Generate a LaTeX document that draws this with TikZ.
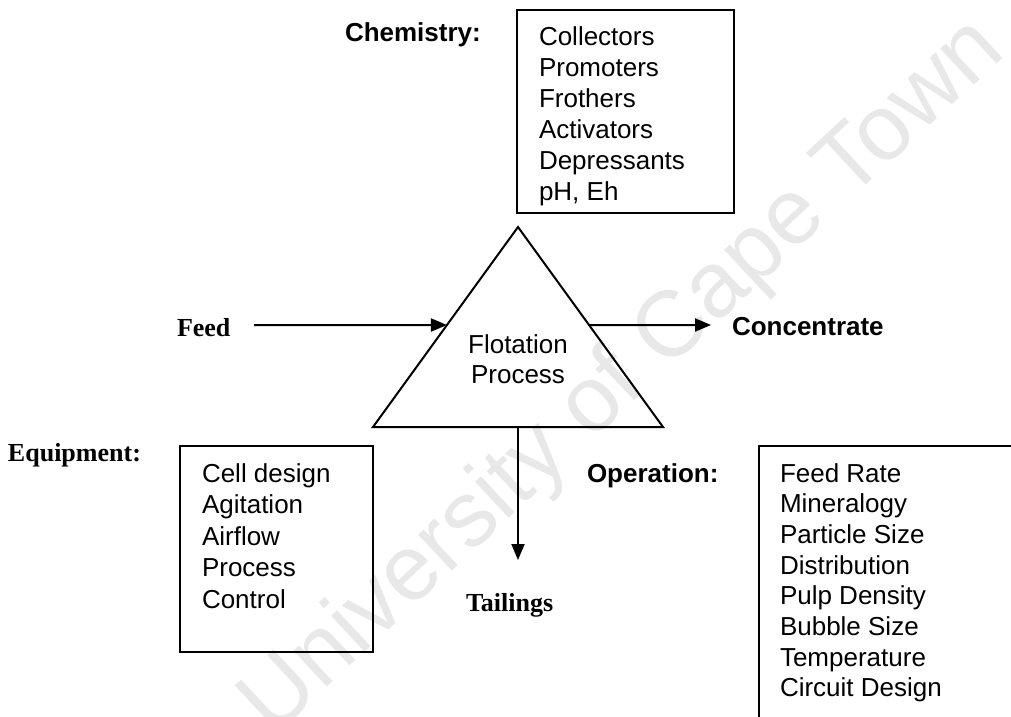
\documentclass[tikz,border=0pt]{standalone}
\usepackage{fontspec}
\setmainfont{Liberation Serif}
\setsansfont{Liberation Sans}
\usetikzlibrary{arrows.meta,calc}
\definecolor{wmark}{gray}{0.91}
\begin{document}
\begin{tikzpicture}[x=1pt,y=-1pt,
  every node/.style={inner sep=0pt, outer sep=0pt},
  item/.style={anchor=base west, font=\sffamily\fontsize{26}{31}\selectfont},
  head/.style={anchor=base west, font=\sffamily\bfseries\fontsize{26}{31}\selectfont},
  headserif/.style={anchor=base west, font=\rmfamily\bfseries\fontsize{26}{31}\selectfont},
  panel/.style={draw, line width=2pt, rectangle},
  flow/.style={line width=2pt, -{Triangle[length=16pt,width=13pt]}},
  wm/.style={text=wmark, font=\sffamily\fontsize{93}{93}\selectfont, rotate=43},
]
\useasboundingbox (0,0) rectangle (1011,716);
\clip (0,0) rectangle (1011,716);

% background watermark
\node[wm] (watermark) at (624,378) {University of Cape Town};

% central process triangle
\coordinate (apex) at (518,227);
\coordinate (bl) at (373,427);
\coordinate (br) at (663,427);
\draw[line width=2pt, line join=miter] (apex) -- (bl) -- (br) -- cycle;
\node[item, anchor=base] (flot) at (518,353) {Flotation};
\node[item, anchor=base] (proc) at (518,383) {Process};

% points where the streams meet the triangle
\coordinate (inL) at ($(bl)!0.51!(apex)$);
\coordinate (outR) at ($(br)!0.51!(apex)$);
\coordinate (baseM) at (518,427);

% chemistry panel
\node[head] (chemhead) at (345,41) {Chemistry:};
\node[panel, minimum width=217pt, minimum height=203pt] (chembox) at (625.5,111.5) {};
\foreach \t [count=\i] in {Collectors,Promoters,Frothers,Activators,Depressants,{pH, Eh}}
  \node[item] (chem\i) at (539,{45+31*(\i-1)}) {\t};

% equipment panel
\node[headserif] (equhead) at (8,461) {Equipment:};
\node[panel, minimum width=193pt, minimum height=206pt] (equbox) at (276.5,549) {};
\foreach \t [count=\i] in {Cell design,Agitation,Airflow,Process,Control}
  \node[item] (equ\i) at (202,{482+31.5*(\i-1)}) {\t};

% operation panel
\node[head] (ophead) at (587,482) {Operation:};
\node[panel, minimum width=266pt, minimum height=284pt] (opbox) at (892,588) {};
\foreach \t [count=\i] in {Feed Rate,Mineralogy,Particle Size,Distribution,Pulp Density,Bubble Size,Temperature,Circuit Design}
  \node[item] (op\i) at (780,{482+30.7*(\i-1)}) {\t};

% streams
\node[headserif] (feed) at (177,336) {Feed};
\node[head] (conc) at (732,335) {Concentrate};
\node[headserif] (tail) at (466,611) {Tailings};
\coordinate (feedstart) at (254,325);
\coordinate (concend) at (711,325);
\coordinate (tailend) at (518,560);
\draw[flow] (feedstart) -- (inL);
\draw[flow] (outR) -- (concend);
\draw[flow] (baseM) -- (tailend);
\end{tikzpicture}
\end{document}
